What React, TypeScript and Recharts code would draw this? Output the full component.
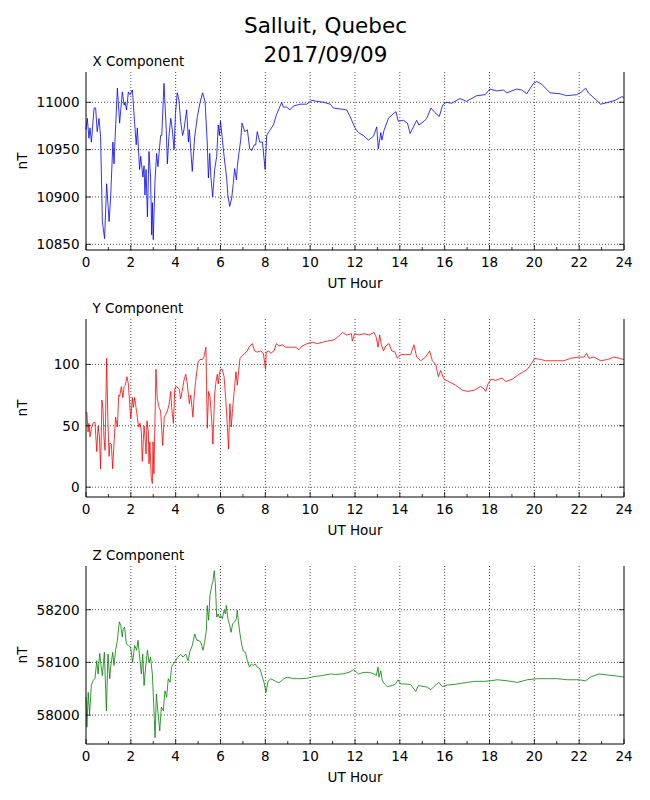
import { LineChart, Line, XAxis, YAxis, CartesianGrid } from 'recharts'

// X component (nT)
const xHours = [
  0, 0.06, 0.13, 0.18, 0.24, 0.36, 0.43, 0.5, 0.58, 0.65, 0.73, 0.83, 0.92, 1.03, 1.1, 1.2, 1.25, 1.29, 1.4, 1.5,
  1.62, 1.7, 1.74, 1.81, 1.89, 1.96, 2.07, 2.17, 2.24, 2.29, 2.39, 2.44, 2.54, 2.59, 2.63, 2.68, 2.74, 2.81, 2.88, 2.93,
  2.96, 3.0, 3.08, 3.15, 3.21, 3.26, 3.33, 3.38, 3.48, 3.58, 3.63, 3.7, 3.78, 3.85, 3.93, 3.99, 4.07, 4.15, 4.22, 4.31,
  4.37, 4.49, 4.57, 4.61, 4.7, 4.74, 4.85, 4.97, 5.08, 5.2, 5.31, 5.41, 5.46, 5.52, 5.57, 5.65, 5.74, 5.83, 5.9, 5.95,
  6.0, 6.16, 6.27, 6.33, 6.41, 6.5, 6.57, 6.63, 6.71, 6.75, 6.82, 6.9, 6.96, 7.08, 7.2, 7.3, 7.39, 7.5, 7.57, 7.64,
  7.75, 7.87, 7.99, 8.06, 8.16, 8.36, 8.5, 8.73, 8.8, 8.95, 9.1, 9.25, 9.55, 9.84, 10.07, 10.3, 10.6, 10.9, 11.03, 11.33,
  11.63, 11.78, 12.0, 12.15, 12.37, 12.6, 12.82, 12.97, 13.04, 13.15, 13.2, 13.29, 13.49, 13.71, 13.83, 13.93, 14.16, 14.34, 14.46, 14.75,
  14.85, 15.08, 15.2, 15.39, 15.57, 15.76, 15.91, 16.06, 16.31, 16.68, 16.98, 17.43, 17.8, 18.02, 18.32, 18.62, 18.77, 19.21, 19.44, 19.66,
  19.96, 20.11, 20.33, 20.7, 21.15, 21.44, 21.89, 22.11, 22.29, 22.41, 22.78, 22.96, 23.3, 23.6, 23.9, 24.0,
]
const xValues = [
  10971, 10983, 10962, 10973, 10958, 10994, 10994, 10969, 10983, 10964, 10874, 10856, 10914, 10874, 10900, 10958, 10935, 10958, 11015, 10978,
  11011, 10997, 11000, 10992, 11011, 11008, 11013, 10978, 10955, 10973, 10929, 10943, 10921, 10933, 10902, 10929, 10879, 10948, 10921, 10860,
  10894, 10855, 10918, 10946, 10932, 10946, 10965, 10965, 11020, 10971, 10935, 10964, 10983, 10971, 10950, 10988, 11010, 11002, 10980, 10965,
  10971, 10992, 10958, 10971, 10941, 10927, 10964, 10985, 10999, 11010, 11001, 10957, 10920, 10946, 10921, 10900, 10929, 10943, 10976, 10965,
  10980, 10943, 10921, 10902, 10890, 10899, 10914, 10930, 10918, 10932, 10946, 10960, 10978, 10969, 10971, 10951, 10949, 10955, 10955, 10969,
  10958, 10958, 10929, 10965, 10969, 10976, 10987, 11000, 10995, 10995, 10992, 10996, 10998, 10998, 11002, 11001, 11000, 10998, 10994, 10993,
  10992, 10985, 10973, 10968, 10965, 10960, 10964, 10974, 10951, 10968, 10960, 10970, 10983, 10988, 10990, 10980, 10981, 10978, 10967, 10981,
  10976, 10980, 10983, 10994, 10989, 10985, 10997, 11000, 10999, 11004, 11001, 11007, 11008, 11014, 11012, 11013, 11010, 11014, 11013, 11009,
  11020, 11022, 11019, 11010, 11009, 11007, 11008, 11011, 11015, 11010, 11002, 10998, 11000, 11002, 11006, 11005,
]

// Y component (nT)
const yHours = [
  0, 0.04, 0.09, 0.13, 0.18, 0.24, 0.31, 0.4, 0.48, 0.54, 0.6, 0.65, 0.71, 0.76, 0.8, 0.85, 0.92, 0.98, 1.03, 1.07,
  1.13, 1.19, 1.25, 1.32, 1.4, 1.46, 1.5, 1.58, 1.64, 1.7, 1.75, 1.83, 1.89, 1.95, 2.0, 2.07, 2.11, 2.17, 2.23, 2.29,
  2.35, 2.41, 2.47, 2.51, 2.59, 2.63, 2.68, 2.72, 2.78, 2.81, 2.85, 2.91, 2.96, 2.99, 3.03, 3.08, 3.12, 3.18, 3.26, 3.33,
  3.42, 3.49, 3.55, 3.63, 3.7, 3.78, 3.82, 3.9, 3.96, 4.01, 4.1, 4.16, 4.22, 4.3, 4.37, 4.45, 4.52, 4.61, 4.67, 4.73,
  4.77, 4.82, 4.89, 5.0, 5.08, 5.19, 5.26, 5.35, 5.41, 5.47, 5.53, 5.61, 5.66, 5.74, 5.8, 5.86, 5.9, 5.95, 6.0, 6.08,
  6.16, 6.23, 6.3, 6.36, 6.42, 6.48, 6.54, 6.63, 6.69, 6.75, 6.81, 6.87, 6.97, 7.08, 7.2, 7.27, 7.42, 7.52, 7.64, 7.79,
  7.91, 8.01, 8.04, 8.16, 8.24, 8.39, 8.49, 8.61, 8.76, 8.91, 9.13, 9.35, 9.5, 9.65, 9.87, 10.1, 10.32, 10.54, 10.77, 11.06,
  11.21, 11.44, 11.63, 11.84, 11.88, 11.98, 12.18, 12.4, 12.63, 12.85, 12.95, 13.03, 13.1, 13.18, 13.27, 13.37, 13.52, 13.64, 13.79, 13.89,
  14.04, 14.26, 14.48, 14.63, 14.75, 14.93, 15.15, 15.33, 15.45, 15.6, 15.72, 15.82, 15.97, 16.19, 16.49, 16.79, 17.04, 17.31, 17.61, 17.76,
  17.83, 17.93, 18.08, 18.28, 18.57, 18.72, 19.02, 19.32, 19.69, 19.84, 20.02, 20.28, 20.51, 20.73, 21.03, 21.32, 21.62, 21.99, 22.22, 22.33,
  22.44, 22.66, 22.96, 23.26, 23.55, 23.78, 24.0,
]
const yValues = [
  60, 61, 45, 52, 41, 48, 52, 53, 29, 50, 41, 15, 71, 63, 41, 30, 105, 52, 25, 36,
  35, 15, 36, 57, 49, 75, 74, 82, 73, 82, 83, 90, 84, 67, 56, 73, 65, 73, 65, 57,
  49, 52, 45, 21, 50, 41, 27, 54, 45, 19, 37, 8, 3, 37, 11, 57, 96, 72, 65, 62,
  34, 57, 59, 62, 67, 78, 65, 52, 80, 82, 81, 80, 72, 79, 87, 92, 84, 68, 75, 65,
  57, 73, 86, 102, 104, 104, 106, 114, 48, 78, 74, 54, 35, 76, 86, 92, 84, 92, 96, 96,
  90, 73, 52, 31, 68, 49, 64, 82, 94, 83, 95, 105, 107, 109, 111, 114, 117, 111, 110, 111,
  109, 96, 110, 111, 109, 111, 117, 115, 116, 114, 114, 114, 112, 115, 117, 118, 117, 118, 119, 120,
  122, 126, 124, 125, 119, 125, 124, 125, 124, 126, 122, 114, 124, 116, 111, 115, 117, 111, 110, 105,
  108, 108, 108, 116, 106, 103, 106, 111, 103, 100, 90, 95, 88, 86, 83, 79, 78, 79, 82, 80,
  78, 84, 88, 87, 89, 86, 88, 92, 96, 100, 105, 104, 103, 103, 103, 103, 105, 106, 106, 109,
  105, 106, 103, 104, 106, 105, 104,
]

// Z component (nT)
const zHours = [
  0, 0.04, 0.1, 0.16, 0.24, 0.31, 0.4, 0.48, 0.54, 0.61, 0.67, 0.73, 0.82, 0.91, 0.98, 1.06, 1.1, 1.19, 1.25, 1.32,
  1.4, 1.49, 1.55, 1.62, 1.66, 1.72, 1.8, 1.89, 1.99, 2.08, 2.17, 2.26, 2.32, 2.41, 2.47, 2.53, 2.59, 2.68, 2.74, 2.81,
  2.88, 2.96, 3.02, 3.08, 3.14, 3.21, 3.29, 3.36, 3.45, 3.52, 3.6, 3.67, 3.75, 3.82, 3.9, 4.0, 4.1, 4.22, 4.33, 4.45,
  4.55, 4.64, 4.74, 4.85, 4.94, 5.04, 5.15, 5.22, 5.29, 5.37, 5.41, 5.47, 5.53, 5.61, 5.66, 5.72, 5.77, 5.83, 5.89, 5.95,
  6.01, 6.08, 6.16, 6.22, 6.26, 6.33, 6.41, 6.47, 6.54, 6.63, 6.71, 6.75, 6.8, 6.87, 6.94, 7.02, 7.11, 7.2, 7.29, 7.38,
  7.46, 7.55, 7.64, 7.76, 7.87, 7.94, 8.03, 8.12, 8.24, 8.46, 8.61, 8.83, 8.98, 9.28, 9.58, 9.87, 10.17, 10.54, 10.91, 11.14,
  11.44, 11.73, 11.93, 12.03, 12.15, 12.4, 12.63, 12.85, 12.95, 13.03, 13.07, 13.15, 13.22, 13.32, 13.44, 13.67, 13.81, 13.92, 14.04, 14.26,
  14.48, 14.6, 14.71, 14.83, 15.08, 15.23, 15.38, 15.52, 15.74, 15.89, 16.12, 16.42, 16.71, 17.01, 17.31, 17.76, 18.05, 18.35, 18.79, 19.24,
  19.69, 20.14, 20.58, 21.03, 21.47, 21.99, 22.29, 22.51, 22.88, 23.26, 23.7, 24.0,
]
const zValues = [
  58034, 57977, 58043, 58002, 58056, 58065, 58069, 58103, 58078, 58117, 58094, 58075, 58119, 58008, 58116, 58069, 58091, 58119, 58094, 58123,
  58142, 58177, 58170, 58148, 58164, 58167, 58135, 58132, 58129, 58100, 58132, 58123, 58142, 58103, 58078, 58116, 58056, 58100, 58123, 58100,
  58110, 58078, 58021, 57957, 58040, 58005, 57970, 58015, 58008, 58046, 58034, 58069, 58062, 58091, 58097, 58103, 58110, 58115, 58110, 58116,
  58103, 58121, 58132, 58154, 58142, 58142, 58135, 58123, 58138, 58161, 58208, 58180, 58227, 58246, 58253, 58274, 58250, 58186, 58192, 58185,
  58189, 58183, 58199, 58192, 58208, 58183, 58170, 58157, 58173, 58177, 58183, 58199, 58177, 58154, 58135, 58121, 58119, 58103, 58091, 58097,
  58094, 58097, 58091, 58088, 58072, 58062, 58043, 58064, 58069, 58064, 58061, 58069, 58072, 58069, 58069, 58070, 58073, 58075, 58078, 58077,
  58078, 58081, 58086, 58083, 58078, 58081, 58081, 58078, 58075, 58091, 58072, 58084, 58065, 58059, 58054, 58056, 58059, 58067, 58059, 58059,
  58058, 58051, 58045, 58056, 58054, 58053, 58048, 58054, 58062, 58054, 58057, 58058, 58060, 58062, 58064, 58064, 58065, 58067, 58065, 58062,
  58067, 58069, 58069, 58069, 58067, 58067, 58065, 58072, 58078, 58076, 58074, 58072,
]

const hourTicks = [0, 1, 2, 3, 4, 5, 6, 7, 8, 9, 10, 11, 12, 13, 14, 15, 16, 17, 18, 19, 20, 21, 22, 23, 24]
const xTicks = [10850, 10900, 10950, 11000]
const yTicks = [0, 50, 100]
const zTicks = [58000, 58100, 58200]

const FONT = 'DejaVu Sans'
const PLOT_W = 538
const PLOT_H = 178
const LEFT = 86
const AXIS_H = 45

const BottomTick = (props: any) => {
  const { x, y, payload } = props
  const major = payload.value % 2 === 0
  return (
    <g>
      <line x1={x} x2={x} y1={y} y2={y - (major ? 5 : 3)} stroke="#000" strokeWidth={0.8} />
      {major && (
        <text x={x} y={y + 16.7} textAnchor="middle" fontFamily={FONT} fontSize={13.5} fill="#000">
          {payload.value}
        </text>
      )}
    </g>
  )
}

const TopTick = (props: any) => {
  const { x, y, payload } = props
  const major = payload.value % 2 === 0
  return <line x1={x} x2={x} y1={y} y2={y + (major ? 5 : 3)} stroke="#000" strokeWidth={0.8} />
}

const LeftTick = (props: any) => {
  const { x, y, payload } = props
  return (
    <g>
      <line x1={x} x2={x + 5} y1={y} y2={y} stroke="#000" strokeWidth={0.8} />
      <text x={x - 6.5} y={y} dy="0.36em" textAnchor="end" fontFamily={FONT} fontSize={13.5} fill="#000">
        {payload.value}
      </text>
    </g>
  )
}

const RightTick = (props: any) => {
  const { x, y } = props
  return <line x1={x} x2={x - 5} y1={y} y2={y} stroke="#000" strokeWidth={0.8} />
}

interface PanelProps {
  top: number
  hours: number[]
  values: number[]
  domain: [number, number]
  ticks: number[]
  color: string
}

function Panel({ top, hours, values, domain, ticks, color }: PanelProps) {
  const data = hours.map((h, i) => ({ h, v: values[i] }))
  return (
    <div style={{ position: 'absolute', left: 0, top }}>
      <LineChart width={650} height={PLOT_H + AXIS_H} data={data} margin={{ top: 0, right: 0, bottom: 0, left: 0 }}>
        <CartesianGrid
          stroke="#000"
          strokeWidth={0.7}
          strokeDasharray="1 2"
          horizontalValues={ticks}
          verticalValues={[2, 4, 6, 8, 10, 12, 14, 16, 18, 20, 22]}
        />
        <XAxis
          dataKey="h"
          type="number"
          domain={[0, 24]}
          ticks={hourTicks}
          interval={0}
          height={AXIS_H}
          tickSize={0}
          tickMargin={0}
          tickLine={false}
          axisLine={{ stroke: '#000', strokeWidth: 1 }}
          tick={<BottomTick />}
        />
        <XAxis
          xAxisId="top"
          orientation="top"
          dataKey="h"
          type="number"
          domain={[0, 24]}
          ticks={hourTicks}
          interval={0}
          height={0}
          tickSize={0}
          tickMargin={0}
          tickLine={false}
          axisLine={{ stroke: '#000', strokeWidth: 1 }}
          tick={<TopTick />}
        />
        <YAxis
          type="number"
          domain={domain}
          ticks={ticks}
          interval={0}
          allowDataOverflow
          width={LEFT}
          tickSize={0}
          tickMargin={0}
          tickLine={false}
          axisLine={{ stroke: '#000', strokeWidth: 1 }}
          tick={<LeftTick />}
        />
        <YAxis
          yAxisId="right"
          orientation="right"
          type="number"
          domain={domain}
          ticks={ticks}
          interval={0}
          allowDataOverflow
          width={650 - LEFT - PLOT_W}
          tickSize={0}
          tickMargin={0}
          tickLine={false}
          axisLine={{ stroke: '#000', strokeWidth: 1 }}
          tick={<RightTick />}
        />
        <Line
          type="linear"
          dataKey="v"
          stroke={color}
          strokeWidth={0.8}
          dot={false}
          isAnimationActive={false}
        />
      </LineChart>
    </div>
  )
}

const panels = [
  { title: 'X Component', top: 72, hours: xHours, values: xValues, domain: [10844, 11032] as [number, number], ticks: xTicks, color: '#0000ff' },
  { title: 'Y Component', top: 319, hours: yHours, values: yValues, domain: [-8, 137] as [number, number], ticks: yTicks, color: '#ff0000' },
  { title: 'Z Component', top: 566, hours: zHours, values: zValues, domain: [57945, 58283] as [number, number], ticks: zTicks, color: '#008000' },
]

export default function App() {
  return (
    <div style={{ position: 'absolute', left: 0, top: 0, width: 650, height: 800, background: '#fff' }}>
      {panels.map((p) => (
        <Panel key={p.title} top={p.top} hours={p.hours} values={p.values} domain={p.domain} ticks={p.ticks} color={p.color} />
      ))}
      <svg width={650} height={800} style={{ position: 'absolute', left: 0, top: 0, pointerEvents: 'none' }}>
        <text x={325.5} y={33.3} textAnchor="middle" fontFamily={FONT} fontSize={21.5} fill="#000">
          Salluit, Quebec
        </text>
        <text x={325.5} y={61.7} textAnchor="middle" fontFamily={FONT} fontSize={21.5} fill="#000">
          2017/09/09
        </text>
        {panels.map((p) => (
          <g key={p.title}>
            <text x={92.5} y={p.top - 6.3} fontFamily={FONT} fontSize={13.5} fill="#000">
              {p.title}
            </text>
            <text
              x={26.5}
              y={p.top + PLOT_H / 2}
              transform={`rotate(-90 26.5 ${p.top + PLOT_H / 2})`}
              textAnchor="middle"
              fontFamily={FONT}
              fontSize={13.5}
              fill="#000"
            >
              nT
            </text>
            <text x={LEFT + PLOT_W / 2} y={p.top + PLOT_H + 38.3} textAnchor="middle" fontFamily={FONT} fontSize={13.5} fill="#000">
              UT Hour
            </text>
          </g>
        ))}
      </svg>
    </div>
  )
}
